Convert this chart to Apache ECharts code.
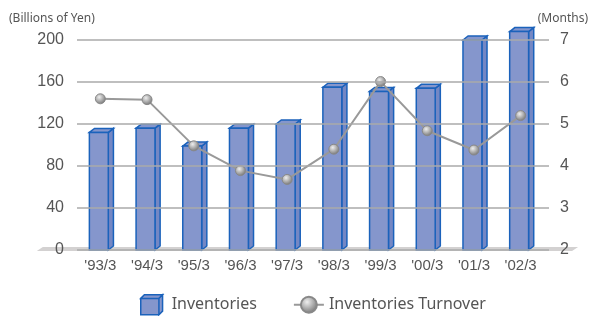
<!DOCTYPE html>
<html>
<head>
<meta charset="utf-8">
<script src="https://cdn.jsdelivr.net/npm/echarts@6/dist/echarts.min.js"></script>
<style>
  html, body { margin: 0; padding: 0; background: #fff; }
  #chart { width: 589px; height: 316px; }
</style>
</head>
<body>
<div id="chart"></div>
<script>
var categories = ["'93/3", "'94/3", "'95/3", "'96/3", "'97/3", "'98/3", "'99/3", "'00/3", "'01/3", "'02/3"];
var inventories = [112, 116, 99, 116, 120, 155, 151, 154, 200, 208];
var turnover = [5.6, 5.58, 4.48, 3.89, 3.68, 4.4, 6.01, 4.84, 4.38, 5.2];
var leftTicks = [0, 40, 80, 120, 160, 200];
var rightTicks = [2, 3, 4, 5, 6, 7];

var dom = document.getElementById("chart");
var chart = echarts.init(dom);

var frontColor = '#8596cc';
var sideColor = '#7487c4';
var edgeColor = '#1b62bb';

// 3D looking column: front face, top and right side
function renderBar(params, api) {
  var top = api.coord([api.value(0), api.value(1)]);
  var base = api.coord([api.value(0), 0]);
  var band = api.size([1, 0])[0];
  var x0 = top[0] - band * 0.235;
  var x1 = top[0] + band * 0.17;
  var dx = band * 0.11, dy = 4;
  var style = { fill: frontColor, stroke: edgeColor, lineWidth: 1.5 };
  return {
    type: 'group',
    children: [
      { type: 'polygon', shape: { points: [[x1, top[1]], [x1 + dx, top[1] - dy], [x1 + dx, base[1] - dy], [x1, base[1]]] },
        style: { fill: sideColor, stroke: edgeColor, lineWidth: 1.5 } },
      { type: 'polygon', shape: { points: [[x0, top[1]], [x0 + dx, top[1] - dy], [x1 + dx, top[1] - dy], [x1, top[1]]] },
        style: style },
      { type: 'rect', shape: { x: x0, y: top[1], width: x1 - x0, height: base[1] - top[1] },
        style: style }
    ]
  };
}

// grey floor under the columns
function renderFloor(params, api) {
  var first = api.coord([0, 0]);
  var last = api.coord([categories.length - 1, 0]);
  var band = api.size([1, 0])[0];
  var l = first[0] - band * 1.36, r = last[0] + band * 1.23;
  var y = first[1] + 1;
  return {
    type: 'polygon',
    shape: { points: [[l, y], [l + 6, y - 4], [r, y - 4], [r - 6, y]] },
    style: { fill: '#d3d1d1' }
  };
}

var option = {
  animation: false,
  grid: { left: 77, right: 45, top: 40, bottom: 66 },
  graphic: [
    { type: 'text', left: 9, top: 13, style: { text: '(Billions of Yen)', fill: '#555', font: '12px "Noto Sans"' } },
    { type: 'text', right: 1, top: 13, style: { text: '(Months)', fill: '#555', font: '12px "Noto Sans"' } }
  ],
  legend: {
    left: 135,
    top: 289,
    itemGap: 36,
    itemWidth: 30,
    itemHeight: 20,
    textStyle: { color: '#555', fontSize: 16, fontFamily: 'Noto Sans' },
    data: [
      { name: 'Inventories',
        icon: 'path://M0,4 L4,0 L24,0 L20,4 Z M20,4 L24,0 L24,18 L20,22 Z M0,4 L20,4 L20,22 L0,22 Z',
        itemStyle: { color: frontColor, borderColor: edgeColor, borderWidth: 1.5 } },
      { name: 'Inventories Turnover' }
    ]
  },
  xAxis: {
    type: 'category',
    data: categories,
    axisLine: { show: false },
    axisTick: { show: false },
    axisLabel: { color: '#555', fontSize: 15, fontFamily: 'Liberation Sans', margin: 8 }
  },
  yAxis: [
    {
      type: 'value', min: leftTicks[0], max: leftTicks[leftTicks.length - 1], interval: 40, z: 5,
      axisLine: { show: false }, axisTick: { show: false },
      axisLabel: { color: '#555', fontSize: 16, fontFamily: 'Liberation Sans', margin: 13 },
      splitLine: { lineStyle: { color: '#aaa', width: 1.5 } }
    },
    {
      type: 'value', min: rightTicks[0], max: rightTicks[rightTicks.length - 1], interval: 1, z: 5,
      axisLine: { show: false },
      axisTick: { show: true, length: 5, lineStyle: { color: '#aaa', width: 1.5 } },
      axisLabel: { color: '#555', fontSize: 16, fontFamily: 'Liberation Sans', margin: 16 },
      splitLine: { show: false }
    }
  ],
  series: [
    {
      name: 'floor', type: 'custom', renderItem: renderFloor, silent: true,
      data: [[0, 0]], z: 0
    },
    {
      name: 'Inventories', type: 'custom', renderItem: renderBar,
      itemStyle: { color: frontColor },
      encode: { x: 0, y: 1 },
      data: inventories.map(function (v, i) { return [i, v]; }), z: 2
    },
    {
      name: 'Inventories Turnover', type: 'line', yAxisIndex: 1,
      data: turnover,
      symbol: 'circle', symbolSize: 10,
      lineStyle: { color: '#999', width: 2 },
      itemStyle: {
        color: new echarts.graphic.RadialGradient(0.4, 0.35, 0.7, [
          { offset: 0, color: '#eee' },
          { offset: 1, color: '#6d6d6d' }
        ]),
        borderColor: '#888', borderWidth: 1
      },
      z: 3
    }
  ]
};
chart.setOption(option, true);
</script>
</body>
</html>
